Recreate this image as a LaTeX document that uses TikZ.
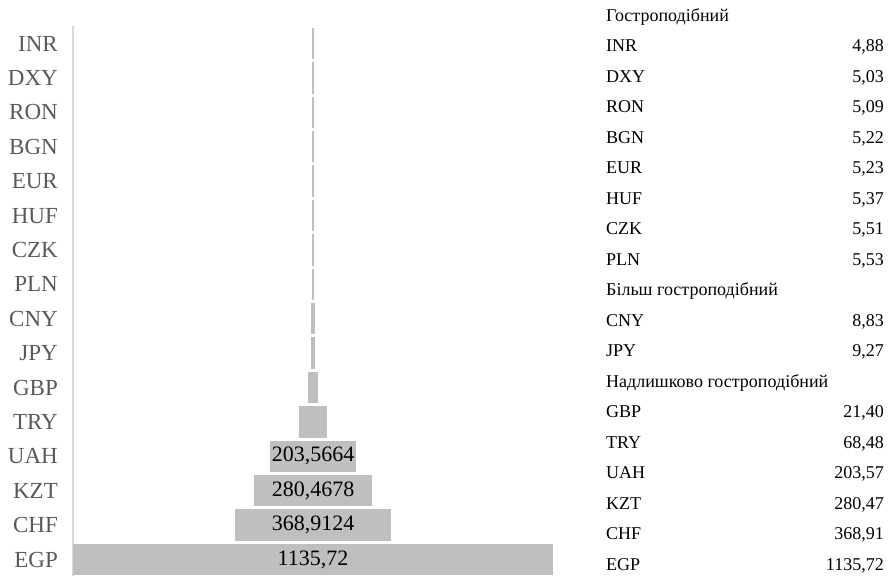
\documentclass[tikz,border=0pt]{standalone}
\usepackage{fontspec}
\setmainfont{Liberation Serif}
\definecolor{barfill}{HTML}{BFBFBF}
\definecolor{axisgray}{HTML}{D9D9D9}
\definecolor{labelgray}{HTML}{595959}
\begin{document}
\begin{tikzpicture}[x=1pt,y=-1pt,
  curlabel/.style={anchor=base east,inner sep=0pt,text=labelgray,font=\fontsize{23}{23}\selectfont},
  barbox/.style={fill=barfill,inner sep=0pt,minimum height=31.5pt,font=\fontsize{22}{22}\selectfont},
  tabtext/.style={anchor=base west,inner sep=0pt,font=\fontsize{18}{18}\selectfont},
  tabval/.style={anchor=base east,inner sep=0pt,font=\fontsize{18}{18}\selectfont}]
\useasboundingbox (0,0) rectangle (893,576);
% left axis
\coordinate (axisTop) at (73,26);
\coordinate (axisBot) at (73,576);
\draw[axisgray,line width=1.3pt] (axisTop)--(axisBot);
% bars, centred on one line
\foreach \name/\v/\lab [count=\i from 0] in {INR/4.88/{},DXY/5.03/{},RON/5.09/{},BGN/5.22/{},EUR/5.23/{},HUF/5.37/{},CZK/5.51/{},PLN/5.53/{},CNY/8.83/{},JPY/9.27/{},GBP/21.40/{},TRY/68.48/{},UAH/203.5664/{203,5664},KZT/280.4678/{280,4678},CHF/368.9124/{368,9124},EGP/1135.72/{1135,72}}{
  \node[barbox,minimum width=0.4226*\v] (bar-\name) at (313,43.5+34.4*\i) {\lab};
  \node[curlabel] (cur-\name) at (58,51+34.4*\i) {\name};
}
% table on the right
\node[tabtext] (head-1) at (606,21) {Гостроподібний};
\node[tabtext] (head-2) at (606,21+30.5*9) {Більш гостроподібний};
\node[tabtext] (head-3) at (606,21+30.5*12) {Надлишково гостроподібний};
\foreach \name/\v/\r in {INR/{4,88}/1,DXY/{5,03}/2,RON/{5,09}/3,BGN/{5,22}/4,EUR/{5,23}/5,HUF/{5,37}/6,CZK/{5,51}/7,PLN/{5,53}/8,CNY/{8,83}/10,JPY/{9,27}/11,GBP/{21,40}/13,TRY/{68,48}/14,UAH/{203,57}/15,KZT/{280,47}/16,CHF/{368,91}/17,EGP/{1135,72}/18}{
  \node[tabtext] (row-\name) at (606,21+30.5*\r) {\name};
  \node[tabval] (val-\name) at (884,21+30.5*\r) {\v};
}
\end{tikzpicture}
\end{document}
